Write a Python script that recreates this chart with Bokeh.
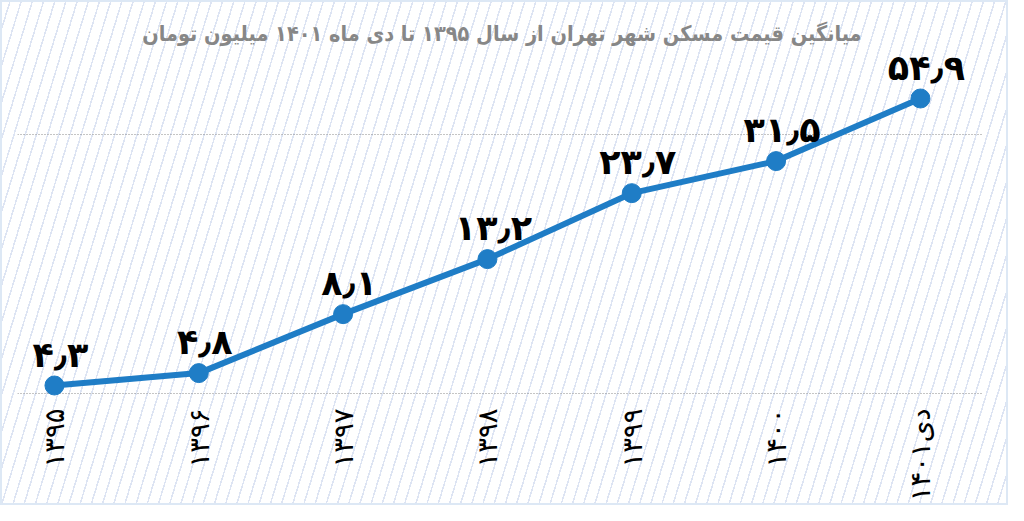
import math

from bokeh.plotting import figure
from bokeh.models import FixedTicker, Label, ColumnDataSource
from bokeh.core.properties import value
from bokeh.embed import file_html
from bokeh.resources import INLINE

# data (million tomans per m2, Tehran)
years = ["۱۳۹۵", "۱۳۹۶", "۱۳۹۷", "۱۳۹۸", "۱۳۹۹", "۱۴۰۰", "دی۱۴۰۱"]
prices = [4.3, 4.8, 8.1, 13.2, 23.7, 31.5, 54.9]
price_labels = ["۴٫۳", "۴٫۸", "۸٫۱", "۱۳٫۲", "۲۳٫۷", "۳۱٫۵", "۵۴٫۹"]
grid_values = [4, 40]
title_text = "میانگین قیمت مسکن شهر تهران از سال ۱۳۹۵ تا دی ماه ۱۴۰۱ میلیون تومان"

idx = list(range(len(years)))
source = ColumnDataSource(dict(x=idx, y=prices, label=price_labels))

blue = "#1f7dc6"

p = figure(width=1008, height=505, y_axis_type="log",
           x_range=(-0.256, 6.43), y_range=(3.698, 131.0),
           output_backend="svg", toolbar_location=None,
           min_border_left=17, min_border_right=26,
           min_border_top=0, min_border_bottom=103)

# transparent canvas, hatched background through css
p.background_fill_alpha = 0
p.border_fill_alpha = 0
p.outline_line_color = None
p.styles = {
    "background-image": "repeating-linear-gradient(107deg, #ffffff 0px, #ffffff 9.2px, "
                        "#dde4f3 9.2px, #dde4f3 10.7px)",
    "box-shadow": "inset 0 0 0 2px #dde8f5",
}

# axes
p.yaxis.visible = False
p.yaxis.ticker = FixedTicker(ticks=grid_values)
p.ygrid.ticker = FixedTicker(ticks=grid_values)
p.ygrid.grid_line_color = "#8a8a8a"
p.ygrid.grid_line_dash = "1 2"
p.ygrid.grid_line_width = 1
p.xgrid.visible = False

p.xaxis.ticker = FixedTicker(ticks=idx)
p.xaxis.major_label_overrides = {i: y for i, y in zip(idx, years)}
p.xaxis.major_label_orientation = math.pi / 2
p.xaxis.major_label_text_font = "DejaVu Sans"
p.xaxis.major_label_text_font_size = "27.5px"
p.xaxis.major_label_text_color = "black"
p.xaxis.major_label_standoff = 0
p.xaxis.axis_line_color = None
p.xaxis.major_tick_line_color = None
p.xaxis.minor_tick_line_color = None

# line and points
p.line(x="x", y="y", source=source, color=blue, line_width=6)
p.scatter(x="x", y="y", source=source, size=19, color=blue)

# value labels
p.text(x="x", y="y", text="label", source=source, text_align="center",
       text_baseline="bottom", y_offset=-11, x_offset=6,
       text_font=value("DejaVu Sans"), text_font_size="35px",
       text_font_style="bold", text_color="black")

# title
p.add_layout(Label(x=3.1, y=98, text=title_text, text_align="center",
                   text_baseline="middle",
                   text_font="'DejaVu Sans Condensed', 'DejaVu Sans'",
                   text_font_size="21.5px", text_font_style="bold",
                   text_color="#878787"))

open("out.html", "w").write(file_html(p, INLINE))
